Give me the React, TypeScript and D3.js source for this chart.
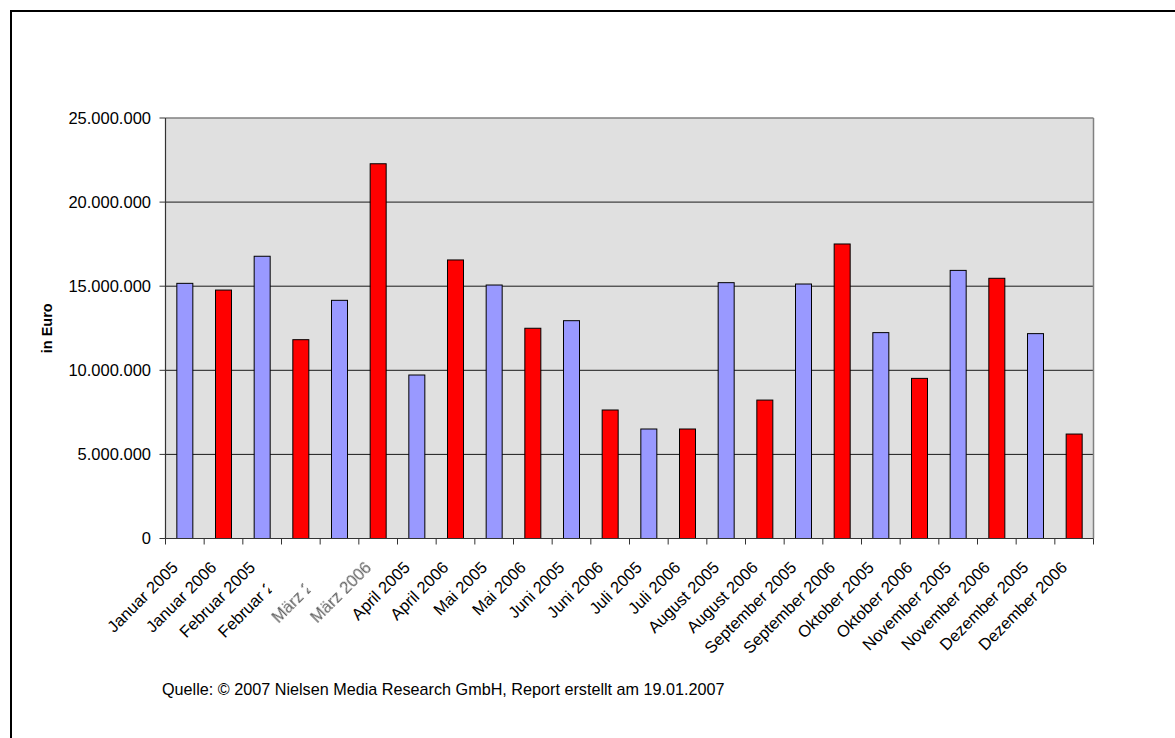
import React from "react";
import * as d3 from "d3";

const categories = [
  "Januar 2005", "Januar 2006", "Februar 2005", "Februar 2006",
  "März 2005", "März 2006", "April 2005", "April 2006",
  "Mai 2005", "Mai 2006", "Juni 2005", "Juni 2006",
  "Juli 2005", "Juli 2006", "August 2005", "August 2006",
  "September 2005", "September 2006", "Oktober 2005", "Oktober 2006",
  "November 2005", "November 2006", "Dezember 2005", "Dezember 2006",
];
const values = [
  15170000, 14770000, 16780000, 11820000,
  14160000, 22280000, 9720000, 16560000,
  15070000, 12500000, 12950000, 7640000,
  6510000, 6510000, 15210000, 8230000,
  15130000, 17510000, 12240000, 9520000,
  15940000, 15470000, 12180000, 6210000,
];
const years = categories.map((c) => c.slice(-4));
const yTicks = [0, 5000000, 10000000, 15000000, 20000000, 25000000];
const clippedLabels = ["Februar 2006", "März 2005"];
const grayLabels = ["März 2005", "März 2006"];
const yTitle = "in Euro";
const footer = "Quelle: © 2007 Nielsen Media Research GmbH, Report erstellt am 19.01.2007";

const W = 1175, H = 738;
const left = 165.5, right = 1093.5, top = 118, bottom = 538.5;
const FONT = "'Liberation Sans', Arial, sans-serif";
const FS = 16.5;

const fmt = (v: number) => d3.format(",")(v).replace(/,/g, ".");

export default function App() {
  const x = d3.scaleBand<string>().domain(categories).range([left, right]).paddingInner(0).paddingOuter(0);
  const y = d3.scaleLinear().domain([0, 25000000]).range([bottom, top]);
  const bw = 16;
  const colorOf = (yr: string) => (yr === "2005" ? "#9999FF" : "#FF0000");

  return (
    <svg width={W} height={H} style={{ position: "absolute", left: 0, top: 0, background: "#fff" }} fontFamily={FONT}>
      <defs>
        <clipPath id="labclip">
          <rect x={-400} y={-40} width={400 - 1.95 * FS} height={80} />
        </clipPath>
        <filter id="soft" x="-10%" y="-10%" width="120%" height="120%">
          <feGaussianBlur stdDeviation="0.5" />
        </filter>
      </defs>
      <rect x={0} y={0} width={W} height={H} fill="#fff" />
      <rect x={11} y={11} width={1300} height={900} fill="none" stroke="#000" strokeWidth={2} />

      {/* plot area */}
      <rect x={left} y={top} width={right - left} height={bottom - top} fill="#E0E0E0" />
      {yTicks.slice(1, -1).map((t) => (
        <line key={t} x1={left} x2={right} y1={y(t)} y2={y(t)} stroke="#1a1a1a" strokeWidth={1} />
      ))}
      <line x1={left} x2={right} y1={top} y2={top} stroke="#808080" strokeWidth={1.5} />
      <line x1={right} x2={right} y1={top} y2={bottom} stroke="#808080" strokeWidth={1.5} />

      {/* bars */}
      {categories.map((c, i) => (
        <rect
          key={c}
          x={(x(c) as number) + x.bandwidth() / 2 - bw / 2}
          y={y(values[i])}
          width={bw}
          height={bottom - y(values[i])}
          fill={colorOf(years[i])}
          stroke="#000"
          strokeWidth={1}
        />
      ))}

      {/* y axis */}
      <line x1={left} x2={left} y1={top} y2={bottom} stroke="#333" strokeWidth={1.2} />
      {yTicks.map((t) => (
        <g key={t}>
          <line x1={left - 6} x2={left} y1={y(t)} y2={y(t)} stroke="#333" strokeWidth={1} />
          <text x={151} y={y(t)} dy="0.35em" textAnchor="end" fontSize={FS} fill="#000">
            {fmt(t)}
          </text>
        </g>
      ))}
      <text
        transform={`translate(52, ${(top + bottom) / 2}) rotate(-90)`}
        textAnchor="middle"
        fontSize={14.5}
        fontWeight="bold"
        fill="#000"
      >
        {yTitle}
      </text>

      {/* x axis */}
      <line x1={left} x2={right} y1={bottom} y2={bottom} stroke="#333" strokeWidth={1.2} />
      {categories.map((c) => (
        <line key={c} x1={x(c) as number} x2={x(c) as number} y1={bottom} y2={bottom + 6} stroke="#333" strokeWidth={1} />
      ))}
      <line x1={right} x2={right} y1={bottom} y2={bottom + 6} stroke="#333" strokeWidth={1} />
      {categories.map((c) => {
        const cx = (x(c) as number) + x.bandwidth() / 2 - 10;
        const gray = grayLabels.includes(c);
        return (
          <g key={c} transform={`translate(${cx}, ${bottom + 26}) rotate(-45)`}>
            <text
              textAnchor="end"
              dy="0.35em"
              fontSize={FS}
              fill={gray ? "#5e5e5e" : "#000"}
              filter={gray ? "url(#soft)" : undefined}
              clipPath={clippedLabels.includes(c) ? "url(#labclip)" : undefined}
            >
              {c}
            </text>
          </g>
        );
      })}

      <text x={162} y={695} fontSize={16.2} fill="#000">
        {footer}
      </text>
    </svg>
  );
}
